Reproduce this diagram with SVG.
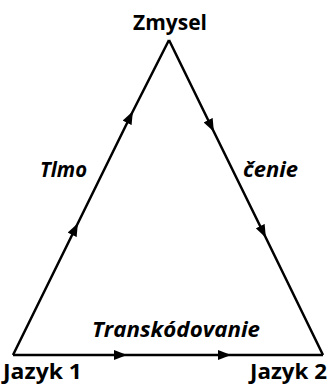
<svg xmlns="http://www.w3.org/2000/svg" width="328" height="384" viewBox="0 0 328 384">
<style>
.lbl{font-family:"Open Sans","Liberation Sans",sans-serif;font-weight:bold;font-size:21.5px;fill:#000}
.it{font-style:italic}
.edge{fill:none;stroke:#000;stroke-width:2.5;stroke-linejoin:miter}
</style>
<defs>
<marker id="arr" markerWidth="13" markerHeight="10" refX="11" refY="5" orient="auto" markerUnits="userSpaceOnUse">
<path d="M0,0 L13,5 L0,10 z" fill="#000"/>
</marker>
</defs>
<rect width="328" height="384" fill="#fff"/>
<g id="connectors">
<path class="edge" d="M13,355 L77,225 L132,113 L169,40" marker-mid="url(#arr)"/>
<path class="edge" d="M169,40 L213,130 L265,236 L323,355" marker-mid="url(#arr)"/>
<path class="edge" d="M13,355 L125,355 L229,355 L323,355" marker-mid="url(#arr)"/>
</g>
<g id="zmysel"><text class="lbl" x="170" y="30" text-anchor="middle" textLength="74" lengthAdjust="spacingAndGlyphs">Zmysel</text></g>
<g id="jazyk1"><text class="lbl" x="3" y="379" textLength="79" lengthAdjust="spacingAndGlyphs">Jazyk 1</text></g>
<g id="jazyk2"><text class="lbl" x="250" y="379" textLength="77" lengthAdjust="spacingAndGlyphs">Jazyk 2</text></g>
<g id="tlmo"><text class="lbl it" x="40" y="177" textLength="47" lengthAdjust="spacingAndGlyphs">Tlmo</text></g>
<g id="cenie"><text class="lbl it" x="243" y="177" textLength="55" lengthAdjust="spacingAndGlyphs">čenie</text></g>
<g id="transkodovanie"><text class="lbl it" x="92" y="337" textLength="168" lengthAdjust="spacingAndGlyphs">Transkódovanie</text></g>
</svg>
